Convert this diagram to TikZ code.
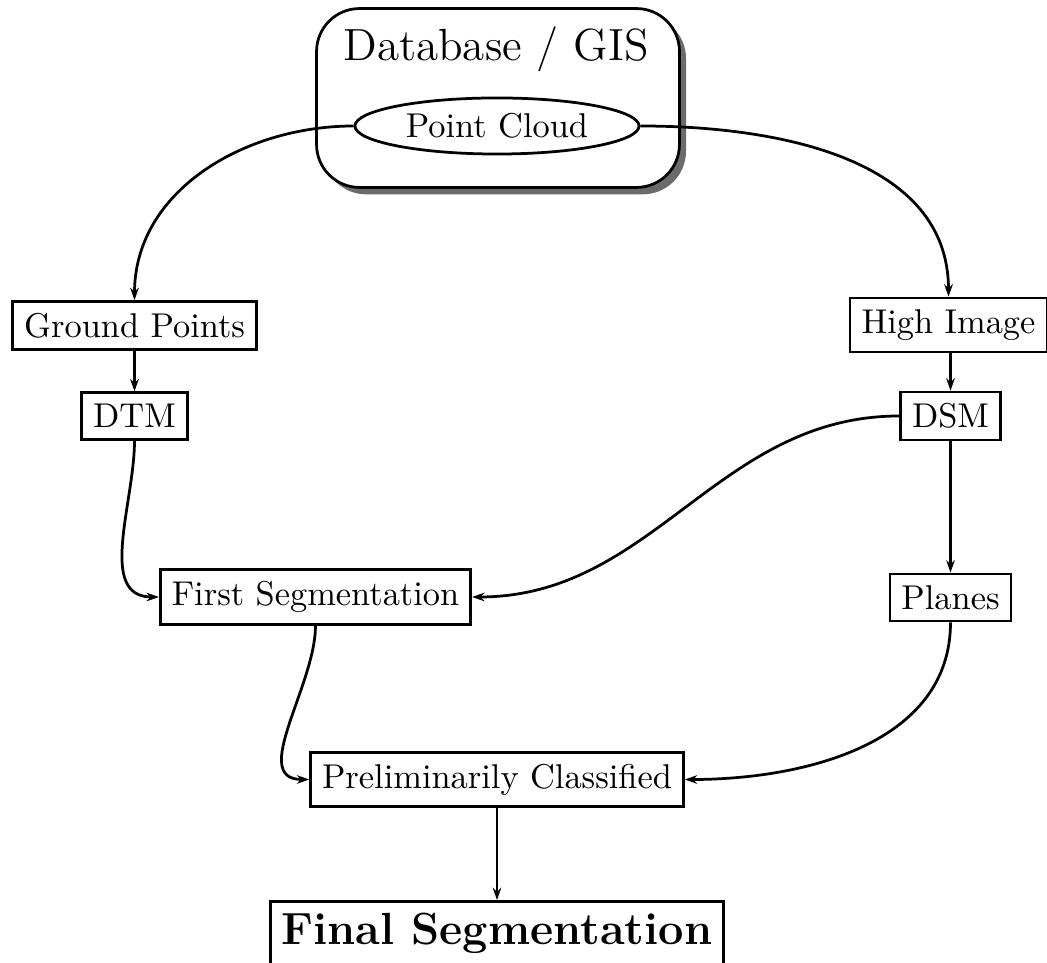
\documentclass[tikz,border=0pt]{standalone}
\usepackage{fontspec}
\usetikzlibrary{shapes.geometric,shadows,arrows.meta}
\begin{document}
\begin{tikzpicture}[x=0.2907pt,y=0.2907pt,
  box/.style={draw,thick,rectangle,fill=white},
  big/.style={font=\fontsize{13.1}{16}\selectfont},
  conn/.style={thick,-{Stealth[length=3.6pt,width=2.5pt,inset=1.2pt]}}]
\clip (0,0) rectangle (1047,-963);
% database box
\node[draw,thick,rounded corners=12.5pt,fill=white,minimum width=105.5pt,minimum height=52pt,
  drop shadow={shadow xshift=1.9pt,shadow yshift=-2pt,fill=black!58,opacity=1}] (db) at (498,-98) {};
\node[big] (dbt) at (496,-49) {Database / GIS};
\node[draw,thick,ellipse,inner sep=0pt,minimum width=82.6pt,minimum height=16.3pt] (pc) at (497,-126) {Point Cloud};
% boxes
\node[box] (gp) at (134.5,-325.5) {Ground Points};
\node[box] (dtm) at (134.5,-416) {DTM};
\node[box] (hi) at (948.5,-325) {High Image};
\node[box] (dsm) at (950.5,-416) {DSM};
\node[box] (fs) at (315.5,-597) {First Segmentation};
\node[box] (pl) at (950.5,-597.5) {Planes};
\node[box] (pc2) at (497,-779.5) {Preliminarily Classified};
\node[box,font=\fontsize{13.1}{16}\selectfont\bfseries,anchor=north] (final) at (497,-900) {Final Segmentation};
% connectors
\draw[conn] (pc.west) to[out=180,in=90] (gp.north);
\draw[conn] (pc.east) to[out=0,in=90] (hi.north);
\draw[conn] (gp) -- (dtm);
\draw[conn] (hi.south -| dsm) -- (dsm);
\draw[conn] (dtm.south) to[out=-90,in=180] (fs.west);
\draw[conn] (dsm.west) to[out=180,in=0] (fs.east);
\draw[conn] (dsm) -- (pl);
\draw[conn] (fs.south) to[out=-90,in=180] (pc2.west);
\draw[conn] (pl.south) to[out=-90,in=0] (pc2.east);
\draw[conn] (pc2) -- (final);
\end{tikzpicture}
\end{document}
